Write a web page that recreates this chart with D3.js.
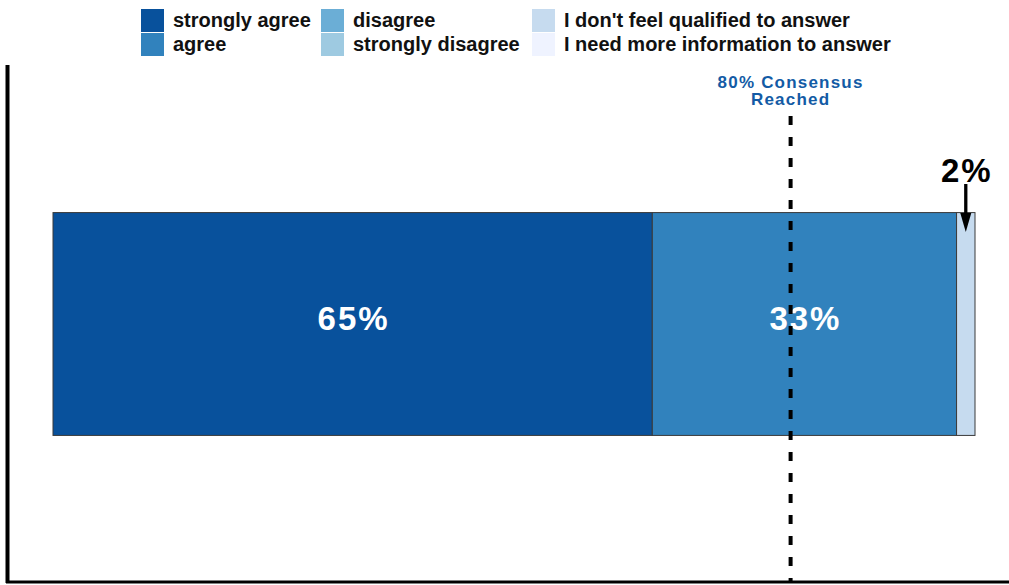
<!DOCTYPE html>
<html>
<head>
<meta charset="utf-8">
<script src="https://cdn.jsdelivr.net/npm/d3@7"></script>
<style>
  body { margin: 0; background: #fff; }
  svg { font-family: Helvetica, Arial, "Liberation Sans", sans-serif; }
</style>
</head>
<body>
<svg id="canvas"></svg>
<script>
//--data
let categories = ["strongly agree", "agree", "disagree", "strongly disagree",
                  "I don't feel qualified to answer", "I need more information to answer"]
let values = [65, 33, 0, 0, 2, 0]
let colors = ["#08519c", "#3182bd", "#6baed6", "#9ecae1", "#c6dbef", "#eff3ff"]
let consensus = 80
//--

//--canvas
let width = 1009
let height = 585
let canvas = d3.select("#canvas").attr("width", width).attr("height", height)
//--

let x = d3.scaleLinear().domain([0, 100]).range([53, 975])
let y = d3.scaleBand().domain(["q"]).range([65, 582]).paddingInner(0).paddingOuter(0.66)

// stacked segments
let stack = []
let acc = 0
values.forEach((v, i) => {
    stack.push({ cat: categories[i], x0: acc, x1: acc + v, v: v, color: colors[i] })
    acc += v
})
let segs = stack.filter(d => d.v > 0)
let mid = d => (x(d.x0) + x(d.x1)) / 2

canvas.selectAll("rect.seg")
    .data(segs)
    .enter()
    .append("rect")
    .attr("class", "seg")
    .attr("x", d => x(d.x0))
    .attr("y", y("q") + 0.5)
    .attr("width", d => x(d.x1) - x(d.x0))
    .attr("height", y.bandwidth())
    .attr("fill", d => d.color)
    .attr("stroke", "#3a3a3a")
    .attr("stroke-width", 1)

// labels inside big segments
canvas.selectAll("text.val")
    .data(segs.filter(d => d.v >= 10))
    .enter()
    .append("text")
    .attr("class", "val")
    .attr("x", d => mid(d) + 1)
    .attr("y", y("q") + y.bandwidth() / 2 + 6)
    .attr("text-anchor", "middle")
    .attr("fill", "#fff")
    .attr("font-weight", "bold")
    .attr("font-size", 33)
    .attr("letter-spacing", 2)
    .text(d => d.v + "%")

// small segments: label above with arrow
let small = segs.filter(d => d.v < 10)
let barTop = y("q")

canvas.selectAll("line.arrow")
    .data(small)
    .enter()
    .append("line")
    .attr("class", "arrow")
    .attr("x1", mid)
    .attr("x2", mid)
    .attr("y1", 184)
    .attr("y2", barTop + 4)
    .attr("stroke", "#000")
    .attr("stroke-width", 3.3)

canvas.selectAll("path.head")
    .data(small)
    .enter()
    .append("path")
    .attr("class", "head")
    .attr("d", d => "M" + (mid(d) - 5.5) + "," + (barTop + 1) + " L" + (mid(d) + 5.5) + "," + (barTop + 1) +
                    " L" + mid(d) + "," + (barTop + 20) + " Z")
    .attr("fill", "#000")

canvas.selectAll("text.small")
    .data(small)
    .enter()
    .append("text")
    .attr("class", "small")
    .attr("x", d => mid(d) + 1)
    .attr("y", 182)
    .attr("text-anchor", "middle")
    .attr("font-weight", "bold")
    .attr("font-size", 33)
    .attr("letter-spacing", 2)
    .attr("fill", "#000")
    .text(d => d.v + "%")

// consensus line
canvas.append("line")
    .attr("x1", x(consensus)).attr("x2", x(consensus))
    .attr("y1", 116).attr("y2", 582)
    .attr("stroke", "#000")
    .attr("stroke-width", 4)
    .attr("stroke-dasharray", "9,12")

canvas.append("text")
    .attr("x", x(consensus))
    .attr("y", 88)
    .attr("text-anchor", "middle")
    .attr("font-weight", "bold")
    .attr("font-size", 17)
    .attr("letter-spacing", 1.2)
    .attr("fill", "#135ba5")
    .selectAll("tspan")
    .data([consensus + "% Consensus", "Reached"])
    .enter()
    .append("tspan")
    .attr("x", x(consensus))
    .attr("dy", (d, i) => i ? 17 : 0)
    .text(d => d)

// axes lines
canvas.append("line")
    .attr("x1", 7.5).attr("x2", 7.5).attr("y1", 65).attr("y2", 583)
    .attr("stroke", "#000").attr("stroke-width", 4)
canvas.append("line")
    .attr("x1", 6).attr("x2", width).attr("y1", 582).attr("y2", 582)
    .attr("stroke", "#000").attr("stroke-width", 3)

// legend
let colX = [141, 321, 532]
let legend = canvas.append("g").attr("id", "legend")
let items = legend.selectAll("g")
    .data(categories)
    .enter()
    .append("g")
    .attr("transform", (d, i) => "translate(" + colX[Math.floor(i / 2)] + "," + (9 + (i % 2) * 24) + ")")
items.append("rect")
    .attr("width", 23).attr("height", 23)
    .attr("fill", (d, i) => colors[i])
items.append("text")
    .attr("x", 32)
    .attr("y", 18)
    .attr("font-size", 20)
    .attr("font-weight", "bold")
    .attr("fill", "#111")
    .text(d => d)
</script>
</body>
</html>
